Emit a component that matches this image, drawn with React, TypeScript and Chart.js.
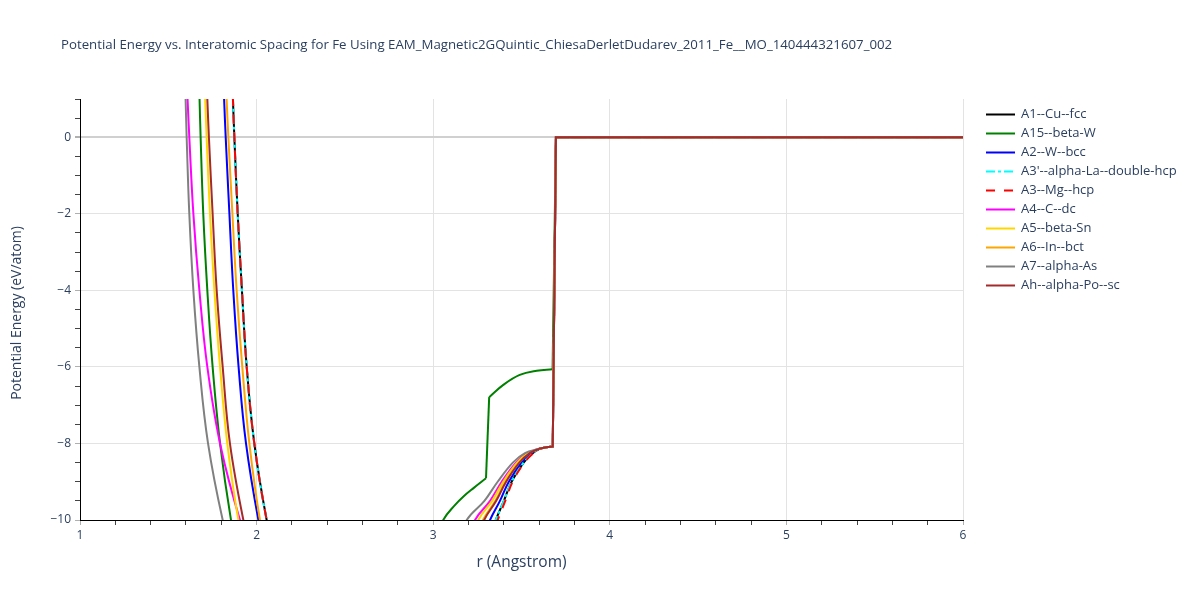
import { useEffect, useRef } from 'react';
import { Chart, registerables } from 'chart.js';

Chart.register(...registerables);

const TITLE =
  'Potential Energy vs. Interatomic Spacing for Fe Using EAM_Magnetic2GQuintic_ChiesaDerletDudarev_2011_Fe__MO_140444321607_002';
const X_TITLE = 'r (Angstrom)';
const Y_TITLE = 'Potential Energy (eV/atom)';

const X_MIN = 1;
const X_MAX = 6;
const Y_MIN = -10;
const Y_MAX = 1;

// energies shared by the read points on the repulsive wall and in the well
const WALL_E = [2, 1, 0, -2, -4, -6, -8, -10, -11];
const WELL_E = [-11, -10, -9.5, -9, -8.5, -8.25, -8.14];
const TAIL_R = [3.6, 3.64, 3.677, 3.695, 6];
const TAIL_E = [-8.14, -8.1, -8.08, 0, 0];

// r values (Angstrom)
const a1Wall = [1.858, 1.866, 1.874, 1.893, 1.917, 1.944, 1.987, 2.057, 2.11];
const a1Well = [3.27, 3.354, 3.4, 3.444, 3.512, 3.565, 3.6];

const a15Wall = [1.672, 1.677, 1.683, 1.698, 1.721, 1.751, 1.793, 1.855, 1.9];
const a15LowR = [2.97, 3.057, 3.123, 3.17, 3.23, 3.299];
const a15LowE = [-11, -10, -9.61, -9.39, -9.16, -8.91];
const a15HighR = [3.317, 3.397, 3.49, 3.586, 3.676];
const a15HighE = [-6.79, -6.47, -6.21, -6.1, -6.06];
const a15TailR = [3.695, 6];
const a15TailE = [0, 0];

const a2Wall = [1.808, 1.816, 1.825, 1.846, 1.868, 1.898, 1.94, 2.01, 2.06];
const a2Well = [3.24, 3.322, 3.378, 3.428, 3.5, 3.556, 3.6];

const a3pWall = [1.858, 1.866, 1.874, 1.893, 1.917, 1.944, 1.987, 2.057, 2.11];
const a3pWell = [3.27, 3.354, 3.4, 3.444, 3.512, 3.565, 3.6];

const a3Wall = [1.858, 1.866, 1.874, 1.893, 1.917, 1.944, 1.987, 2.057, 2.11];
const a3Well = [3.28, 3.365, 3.408, 3.45, 3.516, 3.568, 3.6];

const a4Wall = [1.6, 1.609, 1.619, 1.642, 1.676, 1.721, 1.793, 1.906, 1.99];
const a4Well = [3.15, 3.237, 3.322, 3.388, 3.469, 3.533, 3.6];

const a5Wall = [1.702, 1.709, 1.717, 1.736, 1.761, 1.793, 1.834, 1.897, 1.95];
const a5Well = [3.17, 3.256, 3.334, 3.397, 3.475, 3.538, 3.6];

const a6Wall = [1.821, 1.83, 1.84, 1.863, 1.887, 1.919, 1.959, 2.019, 2.07];
const a6Well = [3.2, 3.282, 3.352, 3.409, 3.485, 3.545, 3.6];

const a7Wall = [1.592, 1.598, 1.604, 1.619, 1.642, 1.676, 1.725, 1.808, 1.87];
const a7Well = [3.1, 3.19, 3.29, 3.365, 3.451, 3.52, 3.6];

const ahWall = [1.713, 1.721, 1.73, 1.751, 1.774, 1.808, 1.849, 1.925, 1.98];
const ahWell = [3.21, 3.289, 3.357, 3.413, 3.488, 3.547, 3.6];

const NAMES = [
  'A1--Cu--fcc',
  'A15--beta-W',
  'A2--W--bcc',
  "A3'--alpha-La--double-hcp",
  'A3--Mg--hcp',
  'A4--C--dc',
  'A5--beta-Sn',
  'A6--In--bct',
  'A7--alpha-As',
  'Ah--alpha-Po--sc',
];
const COLORS = ['#000000', '#008000', '#0000ff', '#00ffff', '#ff0000', '#ff00ff', '#ffd700', '#ffa500', '#808080', '#a52a2a'];
const DASHES: number[][] = [[], [], [], [9, 3, 3, 3], [9, 9], [], [], [], [], []];

type P = { x: number; y: number };
type Piece = { pts: P[]; smooth: boolean };
const zip = (r: number[], e: number[]): P[] => r.map((v, i) => ({ x: v, y: e[i] }));
const build = (wall: number[], well: number[]): Piece[] => [
  { pts: zip(wall, WALL_E), smooth: true },
  { pts: zip(well, WELL_E), smooth: true },
  { pts: zip(TAIL_R, TAIL_E), smooth: false },
];

const low15 = zip(a15LowR, a15LowE);
const high15 = zip(a15HighR, a15HighE);

const SERIES: Piece[][] = [
  build(a1Wall, a1Well),
  [
    { pts: zip(a15Wall, WALL_E), smooth: true },
    { pts: low15, smooth: true },
    { pts: [low15[low15.length - 1], high15[0]], smooth: false },
    { pts: high15, smooth: true },
    { pts: [high15[high15.length - 1]].concat(zip(a15TailR, a15TailE)), smooth: false },
  ],
  build(a2Wall, a2Well),
  build(a3pWall, a3pWell),
  build(a3Wall, a3Well),
  build(a4Wall, a4Well),
  build(a5Wall, a5Well),
  build(a6Wall, a6Well),
  build(a7Wall, a7Well),
  build(ahWall, ahWell),
];

const FONT = '"Open Sans", "Noto Sans", sans-serif';
const TEXT = '#2a3f5f';
const isInt = (v: number) => Math.abs(v - Math.round(v)) < 1e-6;
const isEven = (v: number) => isInt(v) && Math.round(v) % 2 === 0;

const overlay = {
  id: 'overlay',
  afterDraw(chart: any) {
    const ctx = chart.ctx as CanvasRenderingContext2D;
    const area = chart.chartArea;
    ctx.save();
    ctx.fillStyle = TEXT;
    ctx.textBaseline = 'middle';
    ctx.font = `13.25px ${FONT}`;
    ctx.textAlign = 'left';
    ctx.fillText(TITLE, 61, 45);

    ctx.font = `15.5px ${FONT}`;
    ctx.textAlign = 'center';
    ctx.fillText(X_TITLE, (area.left + area.right) / 2, 563);
    ctx.font = `14px ${FONT}`;
    ctx.save();
    ctx.translate(17, 313);
    ctx.rotate(-Math.PI / 2);
    ctx.fillText(Y_TITLE, 0, 0);
    ctx.restore();

    ctx.font = `13px ${FONT}`;
    ctx.textAlign = 'left';
    NAMES.forEach((name, i) => {
      const y = 114.5 + 19 * i;
      ctx.save();
      ctx.strokeStyle = COLORS[i];
      ctx.lineWidth = 2;
      ctx.setLineDash(DASHES[i]);
      ctx.beginPath();
      ctx.moveTo(986, y);
      ctx.lineTo(1015, y);
      ctx.stroke();
      ctx.restore();
      ctx.fillStyle = TEXT;
      ctx.fillText(name, 1021, y);
    });
    ctx.restore();
  },
};

export default function App() {
  const ref = useRef<HTMLCanvasElement | null>(null);
  useEffect(() => {
    document.body.style.margin = '0';
    const canvas = ref.current;
    if (!canvas) return;
    const datasets: any[] = [];
    SERIES.forEach((pieces, i) => {
      pieces.forEach((piece) => {
        datasets.push({
          label: NAMES[i],
          data: piece.pts,
          borderColor: COLORS[i],
          backgroundColor: COLORS[i],
          borderWidth: 2,
          borderDash: DASHES[i],
          pointRadius: 0,
          fill: false,
          tension: piece.smooth ? 0.4 : 0,
          order: NAMES.length - i,
        });
      });
    });
    const chart = new Chart(canvas, {
      type: 'line',
      data: { datasets },
      options: {
        animation: false,
        responsive: false,
        devicePixelRatio: 1,
        layout: { padding: { top: 99, right: 237, left: 0, bottom: 0 } },
        plugins: { legend: { display: false }, title: { display: false }, tooltip: { enabled: false } },
        scales: {
          x: {
            type: 'linear',
            min: X_MIN,
            max: X_MAX,
            afterFit: (s: any) => {
              s.height = 80;
            },
            ticks: {
              stepSize: 0.2,
              autoSkip: false,
              maxRotation: 0,
              padding: 3,
              color: TEXT,
              font: { size: 12, family: FONT },
              callback: (v: any) => (isInt(Number(v)) ? String(Math.round(Number(v))) : ''),
            },
            grid: {
              color: (c: any) => (c.tick && isInt(c.tick.value) ? '#e3e3e3' : 'rgba(0,0,0,0)'),
              tickColor: (c: any) => (c.tick && isInt(c.tick.value) ? '#b0b0b0' : '#444444'),
              tickLength: 5,
              lineWidth: 1,
            },
            border: { display: true, color: '#000000', width: 1 },
          },
          y: {
            type: 'linear',
            min: Y_MIN,
            max: Y_MAX,
            afterFit: (s: any) => {
              s.width = 80;
            },
            ticks: {
              stepSize: 0.5,
              autoSkip: false,
              padding: 4,
              color: TEXT,
              font: { size: 12, family: FONT },
              callback: (v: any) => {
                const n = Number(v);
                if (!isEven(n)) return '';
                const k = Math.round(n);
                return k < 0 ? '\u2212' + Math.abs(k) : String(k);
              },
            },
            grid: {
              color: (c: any) => {
                if (!c.tick) return 'rgba(0,0,0,0)';
                const v = c.tick.value;
                if (Math.abs(v) < 1e-6) return '#d0d0d0';
                return isEven(v) && v > Y_MIN + 1e-6 ? '#e3e3e3' : 'rgba(0,0,0,0)';
              },
              lineWidth: (c: any) => (c.tick && Math.abs(c.tick.value) < 1e-6 ? 2 : 1),
              tickColor: (c: any) => (c.tick && isEven(c.tick.value) ? '#b0b0b0' : '#444444'),
              tickLength: 5,
            },
            border: { display: true, color: '#000000', width: 1 },
          },
        },
      },
      plugins: [overlay],
    } as any);
    return () => chart.destroy();
  }, []);
  return (
    <div style={{ position: 'absolute', left: 0, top: 0, width: 1200, height: 600, background: '#fff' }}>
      <canvas ref={ref} width={1200} height={600} style={{ width: 1200, height: 600, display: 'block' }} />
    </div>
  );
}
